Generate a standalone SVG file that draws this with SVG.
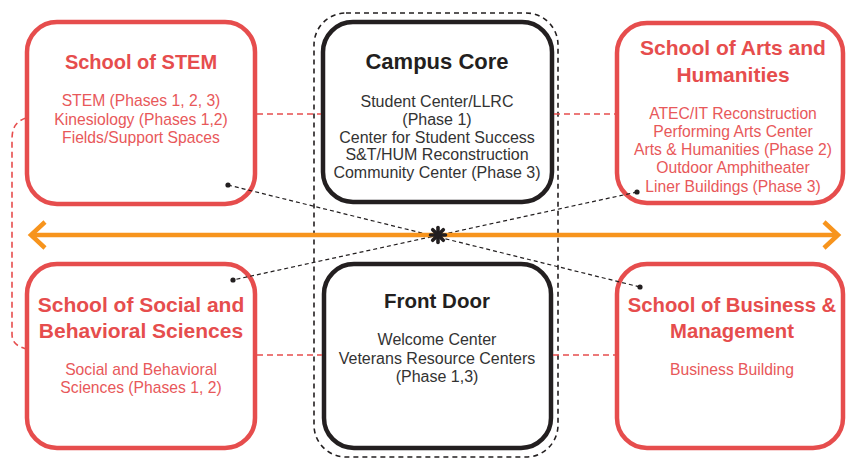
<svg xmlns="http://www.w3.org/2000/svg" width="847" height="458" viewBox="0 0 847 458">
<style>
.red{fill:#fff;stroke:#e64d4d;stroke-width:4.5}
.blk{fill:#fff;stroke:#231f20;stroke-width:4.5}
.rt{font-family:"Liberation Sans",Arial,sans-serif;font-weight:bold;fill:#e64d4d;text-anchor:middle}
.rb{font-family:"Liberation Sans",Arial,sans-serif;font-size:15.7px;fill:#e8585a;text-anchor:middle}
.bt{font-family:"Liberation Sans",Arial,sans-serif;font-weight:bold;fill:#231f20;text-anchor:middle}
.bb{font-family:"Liberation Sans",Arial,sans-serif;font-size:16px;fill:#333;text-anchor:middle}
.rd{fill:none;stroke:#e64d4d;stroke-width:1.6;stroke-dasharray:6 4}
.kd{fill:none;stroke:#231f20;stroke-width:1.2;stroke-dasharray:4 3}
</style>
<g id="campus-outline">
<rect x="314" y="13" width="244" height="444" rx="32" fill="none" stroke="#231f20" stroke-width="1.6" stroke-dasharray="5 4"/>
</g>
<g id="stem">
<rect class="red" x="27" y="22" width="228" height="182" rx="30"/>
<text class="rt" x="141" y="69" font-size="20">School of STEM</text>
<text class="rb" x="141" y="106">STEM (Phases 1, 2, 3)</text>
<text class="rb" x="141" y="124.5">Kinesiology (Phases 1,2)</text>
<text class="rb" x="141" y="143">Fields/Support Spaces</text>
</g>
<g id="campus-core">
<rect class="blk" x="323" y="22" width="229" height="180" rx="30"/>
<text class="bt" x="437" y="68.5" font-size="22">Campus Core</text>
<text class="bb" x="437" y="107">Student Center/LLRC</text>
<text class="bb" x="437" y="124.8">(Phase 1)</text>
<text class="bb" x="437" y="142.6">Center for Student Success</text>
<text class="bb" x="437" y="160.4">S&amp;T/HUM Reconstruction</text>
<text class="bb" x="437" y="178.2">Community Center (Phase 3)</text>
</g>
<g id="arts-humanities">
<rect class="red" x="617" y="23" width="226" height="180" rx="30"/>
<text class="rt" x="733" y="55" font-size="21">School of Arts and</text>
<text class="rt" x="733" y="82" font-size="21">Humanities</text>
<text class="rb" x="733" y="118.5">ATEC/IT Reconstruction</text>
<text class="rb" x="733" y="136.8">Performing Arts Center</text>
<text class="rb" x="733" y="155.1">Arts &amp; Humanities (Phase 2)</text>
<text class="rb" x="733" y="173.4">Outdoor Amphitheater</text>
<text class="rb" x="733" y="191.7">Liner Buildings (Phase 3)</text>
</g>
<g id="social-behavioral">
<rect class="red" x="27" y="264" width="228" height="184" rx="30"/>
<text class="rt" x="141" y="312" font-size="21">School of Social and</text>
<text class="rt" x="141" y="338" font-size="21">Behavioral Sciences</text>
<text class="rb" x="141" y="375">Social and Behavioral</text>
<text class="rb" x="141" y="393">Sciences (Phases 1, 2)</text>
</g>
<g id="front-door">
<rect class="blk" x="324" y="264" width="227" height="184" rx="30"/>
<text class="bt" x="437" y="308" font-size="20.5">Front Door</text>
<text class="bb" x="437" y="345">Welcome Center</text>
<text class="bb" x="437" y="363.5">Veterans Resource Centers</text>
<text class="bb" x="437" y="382">(Phase 1,3)</text>
</g>
<g id="business">
<rect class="red" x="617" y="264" width="226" height="184" rx="30"/>
<text class="rt" x="732" y="312" font-size="20.3">School of Business &amp;</text>
<text class="rt" x="732" y="338" font-size="20.3">Management</text>
<text class="rb" x="732" y="375">Business Building</text>
</g>
<g id="connectors">
<path class="rd" d="M26,118 C14,122 12,130 12,140 L12,334 C12,342 16,346 26,349"/>
<line class="rd" x1="257" y1="114" x2="321" y2="114"/>
<line class="rd" x1="554" y1="114" x2="615" y2="114"/>
<line class="rd" x1="257" y1="355" x2="322" y2="355"/>
<line class="rd" x1="553" y1="355" x2="615" y2="355"/>
<line class="kd" x1="228" y1="185" x2="640" y2="287"/>
<line class="kd" x1="637" y1="192" x2="233" y2="280"/>
<circle cx="228" cy="185" r="2.6" fill="#231f20"/>
<circle cx="640" cy="287" r="2.6" fill="#231f20"/>
<circle cx="637" cy="192" r="2.6" fill="#231f20"/>
<circle cx="233" cy="280" r="2.6" fill="#231f20"/>
<g stroke="#f7941d" stroke-width="4.5" fill="none" stroke-linecap="butt">
<line x1="32" y1="235" x2="837" y2="235"/>
<polyline points="45,222 31,235 45,248"/>
<polyline points="824,222 838,235 824,248"/>
</g>
<g stroke="#231f20" stroke-width="3.6" stroke-linecap="round">
<line x1="438" y1="227.5" x2="438" y2="242.5"/>
<line x1="430.5" y1="235" x2="445.5" y2="235"/>
<line x1="432.7" y1="229.7" x2="443.3" y2="240.3"/>
<line x1="443.3" y1="229.7" x2="432.7" y2="240.3"/>
</g>
</g>
</svg>
